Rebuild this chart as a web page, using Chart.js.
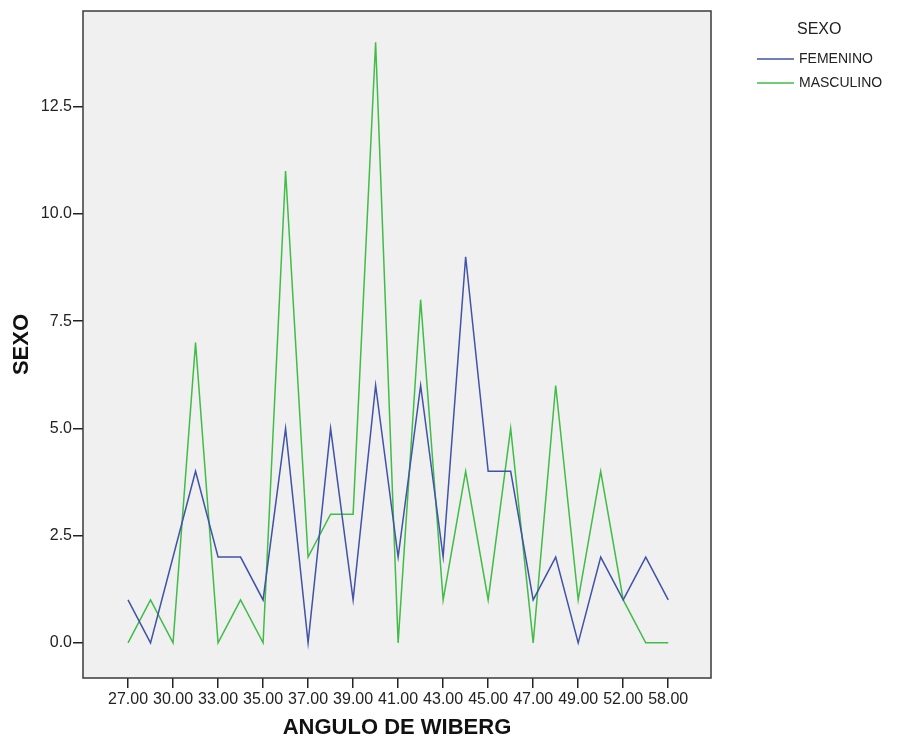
<!DOCTYPE html>
<html>
<head>
<meta charset="utf-8">
<style>
  html, body { margin: 0; padding: 0; background: #ffffff; }
  #wrap { width: 897px; height: 742px; }
</style>
<script src="https://cdn.jsdelivr.net/npm/chart.js@4.4.1/dist/chart.umd.min.js"></script>
</head>
<body>
<div id="wrap"><canvas id="c" width="897" height="742"></canvas></div>
<script>
// Categories (ANGULO DE WIBERG)
const categories = ["27.00","29.00","30.00","32.00","33.00","34.00","35.00","36.00","37.00","38.00","39.00","40.00","41.00","42.00","43.00","44.00","45.00","46.00","47.00","48.00","49.00","50.00","52.00","55.00","58.00"];
// Series values
const femenino  = [1,0,2,4,2,2,1,5,0,5,1,6,2,6,2,9,4,4,1,2,0,2,1,2,1];
const masculino = [0,1,0,7,0,1,0,11,2,3,3,14,0,8,1,4,1,5,0,6,1,4,1,0,0];
// Tick positions / labels
const xTickIndices = [0,2,4,6,8,10,12,14,16,18,20,22,24];
const yTickValues = [0,2.5,5,7.5,10,12.5];
const seriesNames = ["FEMENINO","MASCULINO"];
const seriesColors = ["#4053a8","#40bd46"];
const legendTitle = "SEXO";

const toPoints = arr => arr.map((v, i) => ({ x: i, y: v }));

const framePlugin = {
  id: 'frame',
  beforeDraw(chart) {
    const { ctx, chartArea: a } = chart;
    ctx.save();
    ctx.fillStyle = '#f0f0f0';
    ctx.fillRect(a.left, a.top, a.right - a.left, a.bottom - a.top);
    ctx.restore();
  },
  afterDraw(chart) {
    const { ctx, chartArea: a } = chart;
    ctx.save();
    ctx.strokeStyle = '#3a3a3a';
    ctx.lineWidth = 1.5;
    ctx.strokeRect(a.left, a.top, a.right - a.left, a.bottom - a.top);
    // legend
    ctx.fillStyle = '#222';
    ctx.font = '16px "Liberation Sans", Arial, sans-serif';
    ctx.textAlign = 'left';
    ctx.textBaseline = 'middle';
    ctx.fillText(legendTitle, 797, 30);
    ctx.font = '14px "Liberation Sans", Arial, sans-serif';
    const ys = [59, 83];
    chart.data.datasets.forEach((ds, i) => {
      ctx.strokeStyle = ds.borderColor;
      ctx.lineWidth = 1.5;
      ctx.beginPath();
      ctx.moveTo(757, ys[i]);
      ctx.lineTo(794, ys[i]);
      ctx.stroke();
      ctx.fillStyle = '#222';
      ctx.fillText(ds.label, 799, ys[i]);
    });
    ctx.restore();
  }
};

new Chart(document.getElementById('c'), {
  type: 'line',
  data: {
    datasets: [
      { label: seriesNames[0], data: toPoints(femenino), borderColor: seriesColors[0], backgroundColor: seriesColors[0], borderWidth: 1.5, pointRadius: 0, tension: 0, fill: false },
      { label: seriesNames[1], data: toPoints(masculino), borderColor: seriesColors[1], backgroundColor: seriesColors[1], borderWidth: 1.5, pointRadius: 0, tension: 0, fill: false }
    ]
  },
  options: {
    responsive: false,
    animation: false,
    devicePixelRatio: 1,
    layout: { padding: { top: 11, right: 186, bottom: 0, left: 0 } },
    plugins: { legend: { display: false }, tooltip: { enabled: false } },
    scales: {
      x: {
        type: 'linear',
        min: -2,
        max: 25.9,
        afterBuildTicks(scale) { scale.ticks = xTickIndices.map(v => ({ value: v })); },
        afterFit(scale) { scale.height = 64; },
        grid: { drawOnChartArea: false, drawTicks: true, tickLength: 10, tickColor: '#222', lineWidth: 1.5 },
        border: { display: false },
        ticks: {
          autoSkip: false,
          maxRotation: 0,
          padding: 2,
          color: '#222',
          font: { family: '"Liberation Sans", Arial, sans-serif', size: 16 },
          callback: v => categories[v] ?? ''
        },
        title: {
          display: true,
          text: 'ANGULO DE WIBERG',
          color: '#111',
          font: { family: '"Liberation Sans", Arial, sans-serif', size: 22, weight: 'bold' },
          padding: { top: 0, bottom: 1 }
        }
      },
      y: {
        type: 'linear',
        min: -0.82,
        max: 14.73,
        afterBuildTicks(scale) { scale.ticks = yTickValues.map(v => ({ value: v })); },
        afterFit(scale) { scale.width = 83; },
        grid: { drawOnChartArea: false, drawTicks: true, tickLength: 10, tickColor: '#222', lineWidth: 1.5 },
        border: { display: false },
        ticks: {
          padding: 1,
          color: '#222',
          font: { family: '"Liberation Sans", Arial, sans-serif', size: 16 },
          callback: v => Number(v).toFixed(1)
        },
        title: {
          display: true,
          text: 'SEXO',
          color: '#111',
          font: { family: '"Liberation Sans", Arial, sans-serif', size: 22, weight: 'bold' },
          padding: { top: 9, bottom: 0 }
        }
      }
    }
  },
  plugins: [framePlugin]
});
</script>
</body>
</html>
